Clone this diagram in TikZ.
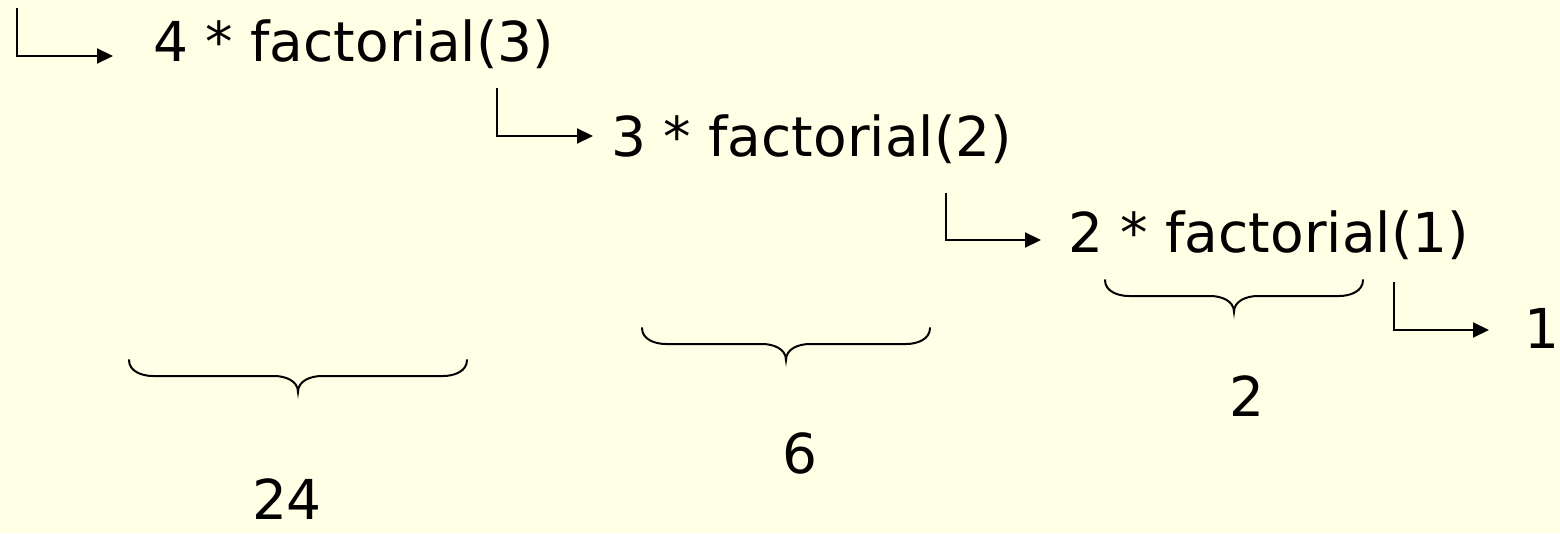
\documentclass[tikz,border=0pt]{standalone}
\usepackage{fontspec}
\setmainfont{DejaVu Sans}
\usetikzlibrary{arrows.meta}
\definecolor{bgyellow}{RGB}{255,255,229}
\tikzset{
  txt/.style={inner sep=0pt, anchor=base west, font=\fontsize{55}{66}\selectfont},
  lbl/.style={inner sep=0pt, anchor=base, font=\fontsize{55}{66}\selectfont},
  callarrow/.style={line width=2pt, -{Triangle[length=16pt,width=15pt]}},
  bracepath/.style={line width=2pt, line cap=round}
}
\newcommand{\mybrace}[5]{% left, right, centre, top, mid ; tip = mid+16
  \draw[bracepath] (#1,#4) to[out=-90,in=180] (#1+24,#5) -- (#3-24,#5)
    to[out=0,in=90] (#3,#5+16) to[out=90,in=180] (#3+24,#5) -- (#2-24,#5)
    to[out=0,in=-90] (#2,#4);}
\begin{document}
\begin{tikzpicture}[x=1pt,y=-1pt]
\fill[bgyellow] (0,0) rectangle (1560,533);
\useasboundingbox (0,0) rectangle (1560,533);
% texts
\node[txt] (t1) at (153,61) {4 * factorial(3)};
\node[txt] (t2) at (611,156) {3 * factorial(2)};
\node[txt] (t3) at (1068,252) {2 * factorial(1)};
\node[txt] (t4) at (1524,348) {1};
% call arrows
\coordinate (s1) at (17,8);    \coordinate (e1) at (113,56);
\coordinate (s2) at (497,88);  \coordinate (e2) at (593,136);
\coordinate (s3) at (946,193); \coordinate (e3) at (1041,240);
\coordinate (s4) at (1394,282);\coordinate (e4) at (1489,330);
\draw[callarrow] (s1) |- (e1);
\draw[callarrow] (s2) |- (e2);
\draw[callarrow] (s3) |- (e3);
\draw[callarrow] (s4) |- (e4);
% braces
\mybrace{129}{467}{298}{360}{376}
\mybrace{642}{930}{786}{328}{344}
\mybrace{1105}{1363}{1234}{280}{296}
% results
\node[lbl] (r24) at (287,519) {24};
\node[lbl] (r6) at (800,473) {6};
\node[lbl] (r2) at (1247,416) {2};
\end{tikzpicture}
\end{document}
